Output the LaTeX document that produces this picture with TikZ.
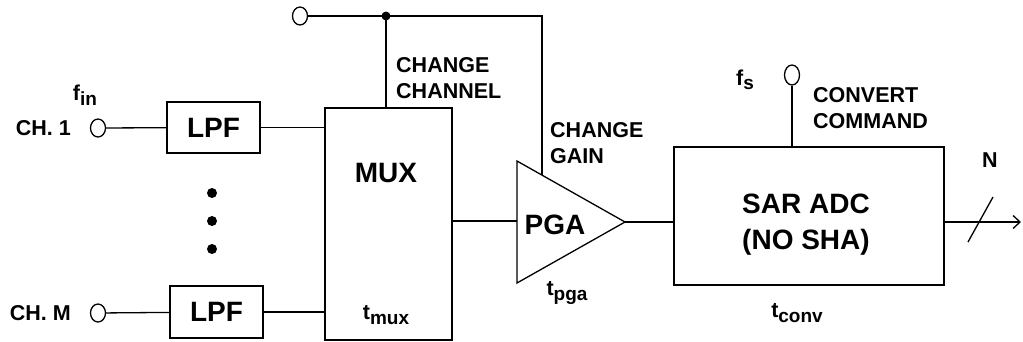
\documentclass[tikz,border=0pt]{standalone}
\usepackage{fontspec}
\setmainfont{Liberation Sans}
\usetikzlibrary{positioning,shapes.geometric,arrows.meta}
\newcommand{\tsub}[2]{#1\raisebox{-0.4ex}{\fontsize{19}{19}\selectfont #2}}

\tikzset{
  wire/.style={line width=1.3pt},
  blk/.style={draw, line width=1.3pt, inner sep=0pt},
  term/.style={draw, ellipse, line width=1.3pt, minimum width=15pt, minimum height=18pt, inner sep=0pt},
  lbl/.style={font=\bfseries\fontsize{21.5}{26}\selectfont, inner sep=0pt},
  big/.style={font=\bfseries\fontsize{28}{36}\selectfont, inner sep=0pt, align=center}
}

\begin{document}
\begin{tikzpicture}[x=1pt,y=-1pt]
\useasboundingbox (0,0) rectangle (1023,341);

% inputs and filters
\node[term] (ch1) at (98,128) {};
\node[term] (chm) at (98,313) {};
\node[blk, big, minimum width=93pt, minimum height=51pt] (lpf1) at (213.5,127.5) {LPF};
\node[blk, big, minimum width=93pt, minimum height=52pt] (lpfm) at (216.5,312) {LPF};
\node[lbl, anchor=east] at (71,128) {CH. 1};
\node[lbl, anchor=east] at (71,313) {CH. M};
\node[lbl] at (85,95) {\tsub{f}{in}};
\foreach \y in {193,221,249}
  \fill (212,\y) circle (5pt);

% multiplexer
\node[blk, minimum width=127pt, minimum height=232pt] (mux) at (388.5,224) {};
\node[big] at (386,173) {MUX};
\node[lbl] at (386,315) {\tsub{t}{mux}};

% programmable gain amplifier
\coordinate (pgaL) at (517,221);
\coordinate (pgaT) at (517,161);
\coordinate (pgaB) at (517,283);
\coordinate (pgaR) at (625,222);
\draw[wire, line join=miter] (pgaT) -- (pgaR) -- (pgaB) -- cycle;
\node[big] at (555,225) {PGA};
\node[lbl] at (567,293) {\tsub{t}{pga}};

% converter
\node[blk, minimum width=270pt, minimum height=138pt] (sar) at (809,216) {};
\node[big] at (806,225) {SAR ADC\\(NO SHA)};
\node[lbl] at (797,313) {\tsub{t}{conv}};

% control inputs
\node[term] (chg) at (300,16) {};
\coordinate (jct) at (386,16);
\coordinate (gtop) at (542,16);
\coordinate (gin) at (542,175);
\node[term, minimum width=15pt, minimum height=20pt] (fs) at (792,75) {};
\node[lbl, align=left, anchor=west] at (396,78) {CHANGE\\CHANNEL};
\node[lbl, align=left, anchor=west] at (550,143) {CHANGE\\GAIN};
\node[lbl, align=left, anchor=west] at (813,108) {CONVERT\\COMMAND};
\node[lbl] at (745,80) {\tsub{f}{s}};

% output
\coordinate (out) at (1021,222);
\node[lbl] at (990,160) {N};

% wires
\draw[wire] (ch1) -- (lpf1);
\draw[wire] (chm) -- (lpfm);
\draw[wire] (lpf1) -- (lpf1 -| mux.west);
\draw[wire] (lpfm) -- (lpfm -| mux.west);
\draw[wire] (mux.east |- pgaL) -- (pgaL);
\draw[wire] (pgaR) -- (pgaR -| sar.west);
\draw[wire] (chg) -- (gtop) -- (gin);
\draw[wire] (jct) -- (jct |- mux.north);
\fill (jct) circle (4.5pt);
\draw[wire] (fs) -- (fs |- sar.north);
\draw[wire, -{Straight Barb[length=7pt,width=13pt]}] (sar.east |- out) -- (out);
\draw[wire] (980.5,219.5) ++(-12.5,22.5) -- ++(25,-45);
\end{tikzpicture}
\end{document}
